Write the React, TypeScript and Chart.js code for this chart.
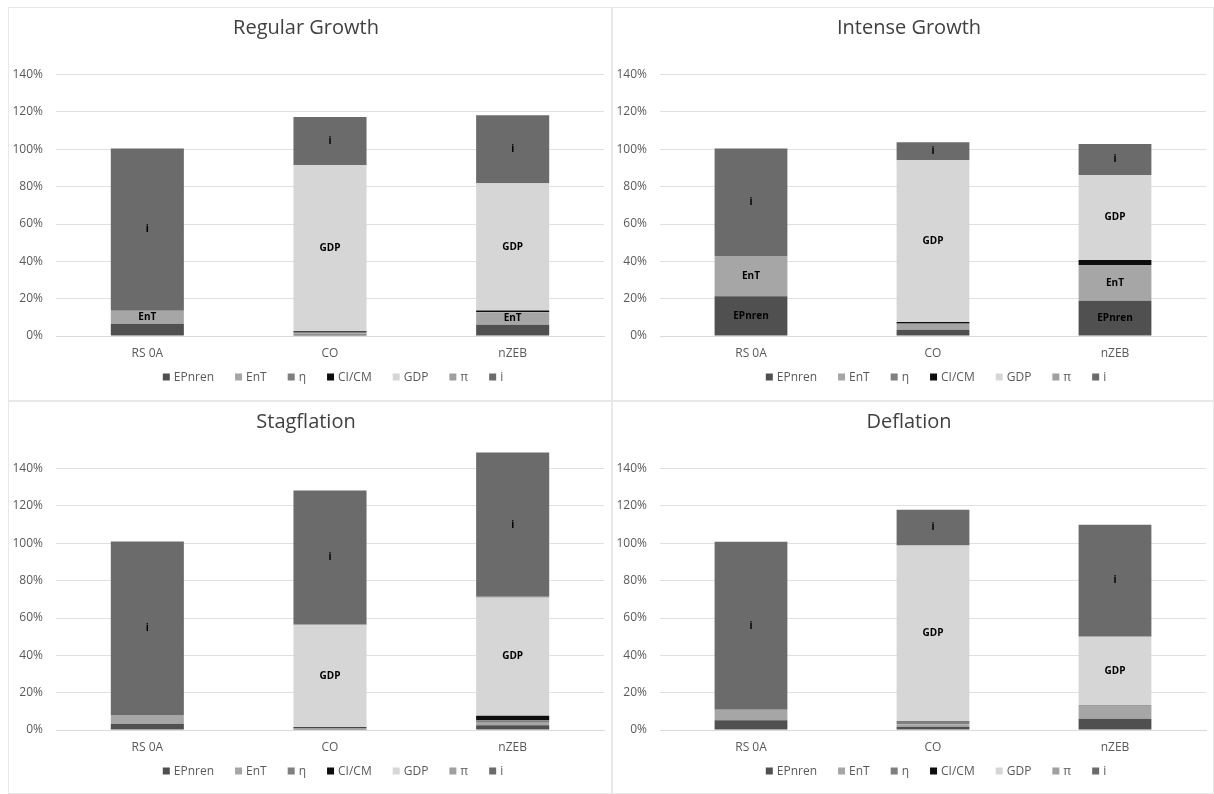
import React, { useEffect, useRef } from "react";
import { Chart, registerables } from "chart.js";

Chart.register(...registerables);

const categories = ["RS 0A", "CO", "nZEB"];
const seriesNames = ["EPnren", "EnT", "η", "CI/CM", "GDP", "π", "i"];
const seriesColors = ["#505050", "#a6a6a6", "#7f7f7f", "#0d0d0d", "#d6d6d6", "#a0a0a0", "#6b6b6b"];
const yTickValues = [0, 20, 40, 60, 80, 100, 120, 140];

// Regular Growth (values per series: RS 0A, CO, nZEB), in %
const regularEPnren = [6.5, 0.8, 6.0];
const regularEnT = [7.0, 0.6, 6.7];
const regularEta = [0, 0.8, 0.2];
const regularCICM = [0, 0.3, 0.8];
const regularGDP = [0, 89.1, 68.0];
const regularPi = [0, 0, 0.2];
const regularI = [87.0, 25.7, 36.3];
const regularLabels = [["EnT", "i"], ["GDP", "i"], ["EnT", "GDP", "i"]];

// Intense Growth
const intenseEPnren = [21.3, 3.3, 18.9];
const intenseEnT = [21.6, 3.1, 19.2];
const intenseEta = [0, 0.3, 0];
const intenseCICM = [0, 0.8, 2.6];
const intenseGDP = [0, 86.7, 45.5];
const intensePi = [0, 0, 0];
const intenseI = [57.5, 9.6, 16.6];
const intenseLabels = [["EPnren", "EnT", "i"], ["GDP", "i"], ["EPnren", "EnT", "GDP", "i"]];

// Stagflation
const stagEPnren = [3.4, 0.5, 2.6];
const stagEnT = [4.7, 0.2, 1.3];
const stagEta = [0, 0.2, 1.3];
const stagCICM = [0, 0.6, 2.5];
const stagGDP = [0, 54.9, 63.2];
const stagPi = [0, 0, 0.5];
const stagI = [92.9, 71.9, 77.2];
const stagLabels = [["i"], ["GDP", "i"], ["GDP", "i"]];

// Deflation
const deflEPnren = [5.2, 1.7, 6.0];
const deflEnT = [5.6, 1.4, 6.9];
const deflEta = [0, 1.2, 0.4];
const deflCICM = [0, 0.3, 0];
const deflGDP = [0, 94.2, 36.5];
const deflPi = [0, 0, 0.3];
const deflI = [90.0, 19.2, 59.9];
const deflLabels = [["i"], ["GDP", "i"], ["GDP", "i"]];

const panels = [
  { title: "Regular Growth", series: [regularEPnren, regularEnT, regularEta, regularCICM, regularGDP, regularPi, regularI], labels: regularLabels, left: 8, top: 7, width: 604, height: 394 },
  { title: "Intense Growth", series: [intenseEPnren, intenseEnT, intenseEta, intenseCICM, intenseGDP, intensePi, intenseI], labels: intenseLabels, left: 612, top: 7, width: 602, height: 394 },
  { title: "Stagflation", series: [stagEPnren, stagEnT, stagEta, stagCICM, stagGDP, stagPi, stagI], labels: stagLabels, left: 8, top: 401, width: 604, height: 393 },
  { title: "Deflation", series: [deflEPnren, deflEnT, deflEta, deflCICM, deflGDP, deflPi, deflI], labels: deflLabels, left: 612, top: 401, width: 602, height: 393 },
];

const FONT = "'Open Sans', 'Liberation Sans', sans-serif";

function Panel({ p }: { p: any }) {
  const ref = useRef<HTMLCanvasElement | null>(null);
  useEffect(() => {
    const canvas = ref.current!;
    const segLabels = {
      id: "segLabels",
      afterDatasetsDraw(chart: any) {
        const ctx = chart.ctx;
        ctx.save();
        ctx.font = `bold 10px ${FONT}`;
        ctx.fillStyle = "#000";
        ctx.textAlign = "center";
        ctx.textBaseline = "middle";
        chart.data.datasets.forEach((ds: any, d: number) => {
          const meta = chart.getDatasetMeta(d);
          meta.data.forEach((el: any, j: number) => {
            if (p.labels[j].includes(ds.label)) {
              ctx.fillText(ds.label, el.x, (el.y + el.base) / 2);
            }
          });
        });
        ctx.restore();
      },
    };
    const customLegend = {
      id: "customLegend",
      afterDraw(chart: any) {
        const ctx = chart.ctx;
        const area = chart.chartArea;
        ctx.save();
        ctx.font = `12px ${FONT}`;
        ctx.textBaseline = "middle";
        ctx.textAlign = "left";
        const box = 7;
        const boxGap = 4;
        const itemGap = 21;
        const widths = seriesNames.map((n) => box + boxGap + ctx.measureText(n).width);
        const total = widths.reduce((a, b) => a + b, 0) + itemGap * (widths.length - 1);
        let x = (area.left + area.right) / 2 - total / 2 + 3;
        const y = area.bottom + 41;
        seriesNames.forEach((n, k) => {
          ctx.fillStyle = seriesColors[k];
          ctx.fillRect(x, y - box / 2, box, box);
          ctx.fillStyle = "#595959";
          ctx.fillText(n, x + box + boxGap, y + 0.5);
          x += widths[k] + itemGap;
        });
        ctx.restore();
      },
    };
    const chart = new Chart(canvas, {
      type: "bar",
      data: {
        labels: categories,
        datasets: seriesNames.map((name, k) => ({
          label: name,
          data: p.series[k],
          backgroundColor: seriesColors[k],
          borderWidth: 0,
          categoryPercentage: 0.4,
          barPercentage: 1,
        })),
      },
      options: {
        responsive: false,
        animation: false,
        layout: { padding: { left: 0, right: 8, top: 0, bottom: p.height === 394 ? 30.6 : 29.6 } },
        plugins: {
          legend: { display: false },
          tooltip: { enabled: false },
          title: {
            display: true,
            text: p.title,
            color: "#404040",
            font: { family: FONT, size: 20, weight: "normal" },
            padding: { top: 9, bottom: 16 },
          },
        },
        scales: {
          x: {
            stacked: true,
            grid: { display: false, drawTicks: false },
            border: { display: true, color: "#d9d9d9", width: 1 },
            ticks: { color: "#595959", font: { family: FONT, size: 12 }, padding: 10 },
          },
          y: {
            stacked: true,
            min: 0,
            max: 150,
            afterFit: (s: any) => { s.width = 48; },
            afterBuildTicks: (s: any) => { s.ticks = yTickValues.map((v) => ({ value: v })); },
            grid: { color: "#e0e0e0", drawTicks: false, lineWidth: 1 },
            border: { display: false },
            ticks: {
              stepSize: 20,
              includeBounds: false,
              color: "#595959",
              font: { family: FONT, size: 12 },
              padding: 13,
              callback: (v: any) => `${v}%`,
            },
          },
        },
      },
      plugins: [segLabels, customLegend],
    });
    return () => chart.destroy();
  }, []);
  return (
    <>
      <div
        style={{
          position: "absolute",
          left: p.left,
          top: p.top,
          width: p.width,
          height: p.height,
          boxSizing: "border-box",
          border: "1px solid #e8e8e8",
        }}
      />
      <canvas
        ref={ref}
        width={p.width}
        height={p.height}
        style={{ position: "absolute", left: p.left, top: p.top, width: p.width, height: p.height }}
      />
    </>
  );
}

export default function App() {
  useEffect(() => {
    document.body.style.margin = "0";
    document.body.style.overflow = "hidden";
  }, []);
  return (
    <div style={{ position: "fixed", left: 0, top: 0, width: 1214, height: 794, background: "#fff", overflow: "hidden" }}>
      {panels.map((p, i) => (
        <Panel key={i} p={p} />
      ))}
    </div>
  );
}
